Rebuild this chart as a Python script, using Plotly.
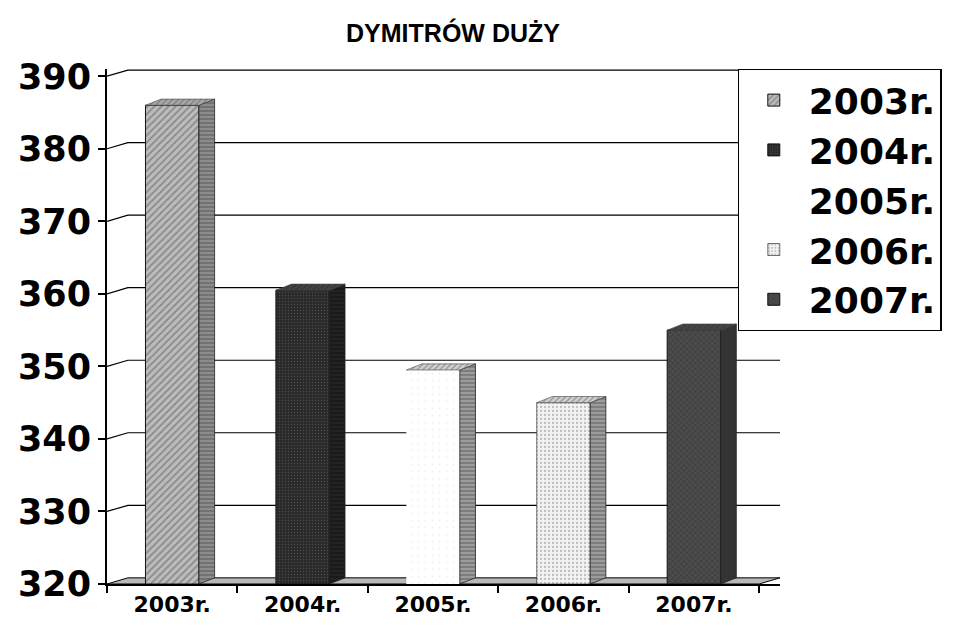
import plotly.graph_objects as go

# ---- data ----
categories = ["2003r.", "2004r.", "2005r.", "2006r.", "2007r."]
values = [386, 360.5, 349.5, 345, 355]
y_ticks = [320, 330, 340, 350, 360, 370, 380, 390]
title_text = "DYMITRÓW DUŻY"

# ---- styles ----
front_colors = ["#bcbcbc", "#2a2a2a", "#ffffff", "#f2f2f2", "#4c4c4c"]
front_patterns = [
    dict(shape="/", fgcolor="#5a5a5a", size=5, solidity=0.35),
    dict(shape=".", fgcolor="#6a6a6a", size=3, solidity=0.15),
    dict(shape=".", fgcolor="#e0e0e0", size=7, solidity=0.05),
    dict(shape=".", fgcolor="#8a8a8a", size=4, solidity=0.25),
    dict(shape="x", fgcolor="#222222", size=4, solidity=0.3),
]
side_colors = ["#8c8c8c", "#1a1a1a", "#9c9c9c", "#9c9c9c", "#333333"]
top_colors = ["#a8a8a8", "#3a3a3a", "#d0d0d0", "#cfcfcf", "#3e3e3e"]
front_lines = [1, 1, 0, 0.6, 1]

y_min, y_max = 320, 391
x_min, x_max = -0.5, 4.66
bar_w = 0.41
depth_x = 0.12
depth_y = 0.85
wall_dx = 0.16

fig = go.Figure()

# front faces (bars)
for i, (cat, v) in enumerate(zip(categories, values)):
    fig.add_trace(go.Bar(
        x=[i], y=[v - y_min], base=y_min, width=bar_w, name=cat,
        marker=dict(color=front_colors[i], pattern=front_patterns[i],
                    line=dict(color="#111111", width=front_lines[i])),
        hoverinfo="skip",
    ))

# side and top faces for the 3D look
w = bar_w / 2
for i, v in enumerate(values):
    fig.add_trace(go.Scatter(
        x=[i + w, i + w + depth_x, i + w + depth_x, i + w, i + w],
        y=[y_min, y_min + depth_y, v + depth_y, v, y_min],
        mode="lines", fill="toself", fillcolor=side_colors[i],
        fillpattern=dict(shape="-", fgcolor="#333333", bgcolor=side_colors[i], size=4, solidity=0.3),
        line=dict(color="#222222", width=0.8),
        showlegend=False, hoverinfo="skip",
    ))
    fig.add_trace(go.Scatter(
        x=[i - w, i - w + depth_x, i + w + depth_x, i + w, i - w],
        y=[v, v + depth_y, v + depth_y, v, v],
        mode="lines", fill="toself", fillcolor=top_colors[i],
        fillpattern=dict(shape="/", fgcolor="#555555", bgcolor=top_colors[i], size=4, solidity=0.3),
        line=dict(color="#444444", width=0.6),
        showlegend=False, hoverinfo="skip",
    ))

# back-wall gridlines and floor (derived from tick values / axis range)
shapes = []
for t in y_ticks[1:]:
    shapes.append(dict(
        type="path", xref="x", yref="y", layer="below",
        path=f"M {x_min},{t} L {x_min + wall_dx},{t + depth_y} L {x_max},{t + depth_y}",
        line=dict(color="black", width=1.2),
    ))
shapes.append(dict(
    type="path", xref="x", yref="y", layer="below",
    path=(f"M {x_min},{y_min} L {x_min + wall_dx},{y_min + depth_y} "
          f"L {x_max},{y_min + depth_y} L {x_max - wall_dx},{y_min} Z"),
    fillcolor="#b8b8b8", line=dict(color="black", width=1),
))

fig.update_layout(
    width=962, height=626,
    paper_bgcolor="white", plot_bgcolor="white",
    barmode="overlay",
    shapes=shapes,
    margin=dict(l=107, r=182, t=69, b=42, autoexpand=False),
    title=dict(text=title_text, x=453 / 962, xref="container", xanchor="center",
               y=1 - 33 / 626, yref="container", yanchor="middle",
               font=dict(family="Liberation Sans", size=25, color="black", weight="bold")),
    legend=dict(
        x=0.937, y=1.0, xanchor="left", yanchor="top",
        bgcolor="white", bordercolor="black", borderwidth=1.2,
        font=dict(family="DejaVu Sans", size=36, color="black", weight="bold"),
        itemwidth=60, tracegroupgap=0,
    ),
    xaxis=dict(
        range=[x_min, x_max], tickmode="array", tickvals=list(range(len(categories))),
        ticktext=categories, ticks="", showgrid=False, zeroline=False,
        showline=True, linecolor="black", linewidth=2,
        tickfont=dict(family="DejaVu Sans", size=22, color="black", weight="bold"),
        minor=dict(ticks="outside", tick0=0.5, dtick=1, ticklen=7, tickcolor="black", tickwidth=2, showgrid=False),
    ),
    yaxis=dict(
        range=[y_min, y_max], tickmode="array", tickvals=y_ticks,
        ticks="outside", ticklen=7, tickcolor="black", tickwidth=1.5,
        showgrid=False, zeroline=False, showline=True, linecolor="black", linewidth=2,
        tickfont=dict(family="DejaVu Sans", size=35, color="black", weight="bold"),
    ),
)

fig.write_html("out.html", config={"displayModeBar": False},
               post_script="document.body.style.margin='0';")
